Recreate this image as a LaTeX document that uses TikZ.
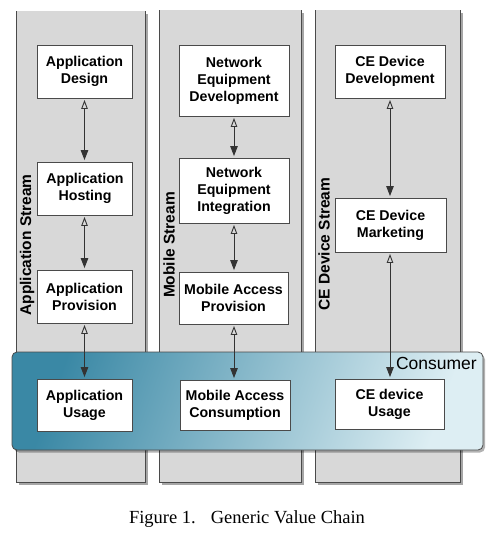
\documentclass[tikz,border=0pt]{standalone}
\usepackage{fontspec}
\setmainfont{Liberation Sans}
\newfontfamily\capfont{Liberation Serif}
\usetikzlibrary{arrows.meta,shadows}
\definecolor{lanegray}{HTML}{D8D8D8}
\definecolor{edgegray}{HTML}{4A4A4A}
\definecolor{tealdark}{HTML}{3A88A5}
\definecolor{tealmid}{HTML}{80B8CB}
\definecolor{teallight}{HTML}{DDEEF3}
\begin{document}
\begin{tikzpicture}[x=1pt,y=-1pt,
  laneshadow/.style={drop shadow={shadow xshift=2.5pt,shadow yshift=-3pt,opacity=0.35,fill=black}},
  laneedge/.style={draw=edgegray,line width=1pt},
  box/.style={draw=edgegray,line width=0.9pt,fill=white,align=center,inner sep=0pt,
    font=\bfseries\fontsize{14.2}{17}\selectfont},
  lnk/.style={line width=0.9pt,draw=black!80,
    {Triangle[open,length=9pt,width=6.5pt]}-{Triangle[length=10pt,width=7.5pt]},
    shorten <=1.5pt,shorten >=1.5pt},
  streamlbl/.style={rotate=90,inner sep=0pt,font=\bfseries\fontsize{15.5}{18}\selectfont}
]
\useasboundingbox (0,0) rectangle (489,538);
% lanes
\fill[lanegray,laneshadow] (16,11) rectangle (145,482);
\fill[lanegray,laneshadow] (159,10) rectangle (301,482);
\fill[lanegray,laneshadow] (315,10) rectangle (460,482);
\draw[laneedge] (16,11) -- (16,482) -- (145,482) -- (145,11);
\draw[laneedge] (159,10) -- (159,482) -- (301,482) -- (301,10);
\draw[laneedge] (315,10) -- (315,482) -- (460,482) -- (460,10);
% stream labels
\node[streamlbl] (sapp) at (27,245) {Application Stream};
\node[streamlbl] (smob) at (169,245) {Mobile Stream};
\node[streamlbl] (sce) at (324,244) {CE Device Stream};
% consumer band
\shadedraw[rounded corners=5pt,draw=edgegray,line width=0.8pt,
  left color=tealdark,middle color=tealmid,right color=teallight,shading angle=70,
  drop shadow={shadow xshift=2pt,shadow yshift=-2.5pt,opacity=0.3,fill=black}]
  (12,352) rectangle (483,450);
\node[anchor=base east,inner sep=0pt,font=\fontsize{17.5}{20}\selectfont] (cons) at (477,369) {Consumer};
% application column
\node[box,minimum width=95pt,minimum height=53pt] (ad) at (84.5,71.5) {Application\\Design};
\node[box,minimum width=95pt,minimum height=53pt] (ah) at (85,188.5) {Application\\Hosting};
\node[box,minimum width=95pt,minimum height=53pt] (ap) at (84.5,296.5) {Application\\Provision};
\node[box,minimum width=95pt,minimum height=52pt] (au) at (84.5,405) {Application\\Usage};
% mobile column
\node[box,minimum width=110pt,minimum height=71pt] (ned) at (234,80.5) {Network\\Equipment\\Development};
\node[box,minimum width=110pt,minimum height=65pt] (nei) at (234,190.5) {Network\\Equipment\\Integration};
\node[box,minimum width=109pt,minimum height=52pt] (map) at (233.5,298) {Mobile Access\\Provision};
\node[box,minimum width=110pt,minimum height=50pt] (mac) at (235,405) {Mobile Access\\Consumption};
% CE column
\node[box,minimum width=110pt,minimum height=53pt] (ced) at (390,71.5) {CE Device\\Development};
\node[box,minimum width=111pt,minimum height=54pt] (cem) at (390.5,225) {CE Device\\Marketing};
\node[box,minimum width=109pt,minimum height=50pt] (ceu) at (389.5,404) {CE device\\Usage};
% links
\draw[lnk] (ad.south) -- (ah.north -| ad.south);
\draw[lnk] (ah.south -| ad.south) -- (ap.north);
\draw[lnk] (ap.south) -- (au.north);
\draw[lnk] (ned.south) -- (nei.north);
\draw[lnk] (nei.south) -- (map.north -| nei.south);
\draw[lnk] (map.south -| nei.south) -- (mac.north -| nei.south);
\draw[lnk] (ced.south) -- (cem.north -| ced.south);
\draw[lnk] (cem.south -| ced.south) -- (ceu.north -| ced.south);
% caption
\node[anchor=base,inner sep=0pt,font=\capfont\fontsize{18.5}{22}\selectfont] (cap) at (247,523) {Figure 1.\hspace{15pt}Generic Value Chain};
\end{tikzpicture}
\end{document}
